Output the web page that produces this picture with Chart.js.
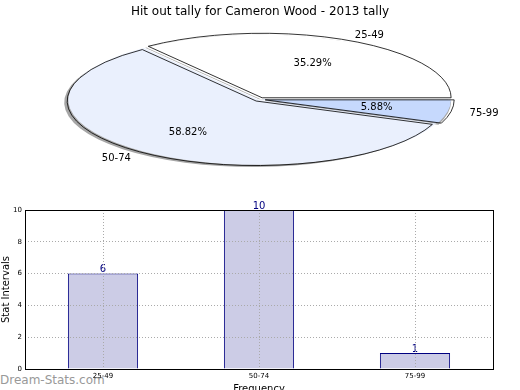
<!DOCTYPE html>
<html>
<head>
<meta charset="utf-8">
<script src="https://cdn.jsdelivr.net/npm/chart.js@4.4.1/dist/chart.umd.min.js"></script>
<style>
  html, body { margin: 0; padding: 0; background: #fff; overflow: hidden; }
  #wrap { position: relative; width: 520px; height: 390px; overflow: hidden; }
  #pieChart { position: absolute; left: 0; top: 0; }
  #barChart { position: absolute; left: 0; top: 195px; }
  #mark { position: absolute; left: 0; top: 373px; font: 12px "DejaVu Sans"; line-height: 15px; color: #999; }
</style>
</head>
<body>
<div id="wrap">
  <div id="mark">Dream-Stats.com</div>
  <canvas id="pieChart" width="520" height="190"></canvas>
  <canvas id="barChart" width="520" height="205"></canvas>
</div>
<script>
// Data
const categories = ['25-49', '50-74', '75-99'];
const tally = [6, 10, 1];
const explode = [0.03, 0.03, 0.03];
const sliceColors = ['#ffffff', '#eaf0fd', '#c6d9fd'];
const yTicks = [0, 2, 4, 6, 8, 10];

Chart.defaults.font.family = 'DejaVu Sans';
Chart.defaults.color = '#000';

// pie is drawn clockwise from 3 o'clock, so feed it in reverse order
const pieLabels = categories.slice().reverse();
const pieValues = tally.slice().reverse();
const pieColors = sliceColors.slice().reverse();
const pieExplode = explode.slice().reverse();

// where the squashed pie sits on the page
const ell = {cx: 259.6, cy: 99.5, rx: 189, ry: 64.5};

function arcCentre(arc) {
  const mid = (arc.startAngle + arc.endAngle) / 2;
  const k = (arc.options.offset || 0) / arc.outerRadius;
  return {
    mid: mid,
    x: ell.cx + Math.cos(mid) * k * ell.rx,
    y: ell.cy + Math.sin(mid) * k * ell.ry
  };
}

function wedgePath(ctx, arc, dx, dy) {
  const c = arcCentre(arc);
  ctx.beginPath();
  ctx.moveTo(c.x + dx, c.y + dy);
  ctx.ellipse(c.x + dx, c.y + dy, ell.rx, ell.ry, 0, arc.startAngle, arc.endAngle);
  ctx.closePath();
}

// Squash the pie into an ellipse, add shadow, outlines and labels
const squashPie = {
  id: 'squashPie',
  beforeDatasetsDraw(chart) {
    const ctx = chart.ctx;
    const arcs = chart.getDatasetMeta(0).data;
    ctx.save();
    ctx.fillStyle = '#a6a6a6';
    arcs.forEach(a => { wedgePath(ctx, a, -3, 1.5); ctx.fill(); });
    const a0 = arcs[0];
    ctx.translate(ell.cx, ell.cy);
    ctx.scale(ell.rx / a0.outerRadius, ell.ry / a0.outerRadius);
    ctx.translate(-a0.x, -a0.y);
  },
  afterDatasetsDraw(chart) {
    const ctx = chart.ctx;
    ctx.restore();
    ctx.save();
    const arcs = chart.getDatasetMeta(0).data;
    const values = chart.data.datasets[0].data;
    const total = values.reduce((s, v) => s + v, 0);
    ctx.strokeStyle = '#000';
    ctx.lineWidth = 0.8;
    arcs.forEach(a => { wedgePath(ctx, a, 0, 0); ctx.stroke(); });

    ctx.font = '10px "DejaVu Sans"';
    ctx.fillStyle = '#000';
    ctx.textBaseline = 'middle';
    arcs.forEach((a, i) => {
      const c = arcCentre(a);
      const cos = Math.cos(c.mid), sin = Math.sin(c.mid);
      ctx.textAlign = 'center';
      ctx.fillText((values[i] / total * 100).toFixed(2) + '%',
          c.x + 0.6 * ell.rx * cos, c.y + 0.6 * ell.ry * sin);
      ctx.textAlign = cos > 0 ? 'left' : 'right';
      ctx.fillText(chart.data.labels[i],
          c.x + 1.1 * ell.rx * cos, c.y + 1.1 * ell.ry * sin + 1);
    });
    ctx.restore();
  }
};

new Chart(document.getElementById('pieChart'), {
  type: 'pie',
  data: {
    labels: pieLabels,
    datasets: [{
      data: pieValues,
      backgroundColor: pieColors,
      borderWidth: 0,
      clip: false,
      offset: (c) => pieExplode[c.dataIndex] * (c.chart.getDatasetMeta(0).controller.outerRadius || 0)
    }]
  },
  options: {
    responsive: false,
    animation: false,
    events: [],
    rotation: 90,
    plugins: {
      legend: {display: false},
      tooltip: {enabled: false},
      title: {
        display: true,
        text: 'Hit out tally for Cameron Wood - 2013 tally',
        font: {size: 12, weight: 'normal'},
        color: '#000',
        padding: {top: 5, bottom: 6}
      }
    }
  },
  plugins: [squashPie]
});

// Bar chart helpers
const barFrame = {
  id: 'barFrame',
  afterDraw(chart) {
    const {ctx, chartArea: a} = chart;
    ctx.save();
    ctx.strokeStyle = '#000';
    ctx.lineWidth = 1;
    ctx.strokeRect(Math.round(a.left) + 0.5, Math.round(a.top) + 0.5,
        Math.round(a.right - a.left), Math.round(a.bottom - a.top));
    ctx.restore();
  }
};

const barValues = {
  id: 'barValues',
  afterDatasetsDraw(chart) {
    const ctx = chart.ctx;
    const meta = chart.getDatasetMeta(0);
    ctx.save();
    ctx.font = '10px "DejaVu Sans"';
    ctx.fillStyle = '#000080';
    ctx.textAlign = 'center';
    ctx.textBaseline = 'bottom';
    meta.data.forEach((bar, i) => {
      ctx.fillText(chart.data.datasets[0].data[i], bar.x, bar.y + 1);
    });
    ctx.restore();
  }
};

new Chart(document.getElementById('barChart'), {
  type: 'bar',
  data: {
    labels: categories,
    datasets: [{
      data: tally,
      backgroundColor: '#ccccE6',
      borderColor: '#000080',
      borderWidth: 1,
      barPercentage: 0.45,
      categoryPercentage: 1
    }]
  },
  options: {
    responsive: false,
    animation: false,
    events: [],
    layout: {padding: {top: 15, right: 27, left: 0, bottom: 0}},
    plugins: {legend: {display: false}, tooltip: {enabled: false}},
    scales: {
      x: {
        grid: {offset: false, color: '#aaa', drawTicks: false, z: 1},
        border: {display: false, dash: [1, 2]},  // dash styles the grid lines
        ticks: {font: {size: 7}, padding: 3, maxRotation: 0},
        title: {display: true, text: 'Frequency', font: {size: 10}, padding: {top: 0, bottom: 5}},
        afterFit(s) { s.height = 31; }
      },
      y: {
        min: yTicks[0],
        max: yTicks[yTicks.length - 1],
        grid: {color: '#aaa', drawTicks: false, z: 1},
        border: {display: false, dash: [1, 2]},
        ticks: {font: {size: 7}, padding: 3, stepSize: yTicks[1] - yTicks[0]},
        title: {display: true, text: 'Stat Intervals', font: {size: 10}, padding: {top: 0, bottom: 0}},
        afterFit(s) { s.width = 25; }
      }
    }
  },
  plugins: [barFrame, barValues]
});
</script>
</body>
</html>
